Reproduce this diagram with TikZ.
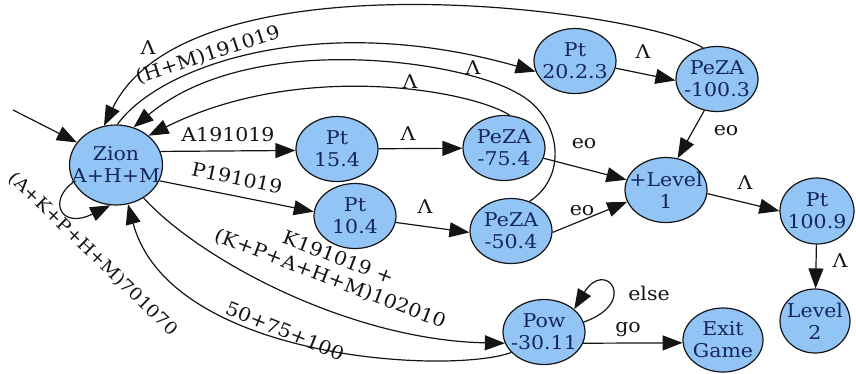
\documentclass[tikz,border=0pt]{standalone}
\usepackage{fontspec}
\setmainfont{DejaVu Serif}[FakeStretch=1.08]
\usetikzlibrary{shapes.geometric,arrows.meta}
\definecolor{nodefill}{RGB}{146,197,246}
\definecolor{nodetext}{RGB}{22,38,88}
\definecolor{edgecol}{RGB}{20,20,20}
\tikzset{
  fsm/.style={ellipse, draw=edgecol, line width=1.2pt, fill=nodefill, text=nodetext,
    inner xsep=-14pt, inner ysep=-2pt, align=center, font=\fontsize{19}{22}\selectfont,
    minimum width=82pt, minimum height=65pt},
  conn/.style={draw=edgecol, line width=1.2pt, -{Triangle[length=20pt,width=15pt]}},
  lbl/.style={font=\fontsize{19}{22}\selectfont, text=edgecol, inner sep=0pt, align=center},
}
\begin{document}
\begin{tikzpicture}[x=1pt,y=-1pt]
\useasboundingbox (0,0) rectangle (856,373);
% states
\node[fsm, minimum width=93pt, minimum height=80pt] (zion) at (116,165) {Zion\\A+H+M};
\node[fsm] (pt154) at (337,149) {Pt\\15.4};
\node[fsm] (pt2023) at (575,61) {Pt\\20.2.3};
\node[fsm] (peza100) at (717,79) {PeZA\\-100.3};
\node[fsm] (peza75) at (504,148) {PeZA\\-75.4};
\node[fsm] (lvl1) at (666,190) {+Level\\1};
\node[fsm] (peza50) at (511,231) {PeZA\\-50.4};
\node[fsm] (pt104) at (355,216) {Pt\\10.4};
\node[fsm, minimum width=74pt, minimum height=66pt] (pt1009) at (817,211) {Pt\\100.9};
\node[fsm, minimum width=70pt, minimum height=64pt] (lvl2) at (815,321) {Level\\2};
\node[fsm] (pow) at (544,332) {Pow\\-30.11};
\node[fsm, minimum width=80pt, minimum height=64pt] (exitg) at (723,340) {Exit\\Game};
% initial arrow
\coordinate (init) at (13,110);
\draw[conn] (init) -- (zion.150);
% from Zion
\draw[conn] (zion.17) -- (pt154.182);
\draw[conn] (zion.-20) -- (pt104.174);
\draw[conn] (zion.88) .. controls (160,65) and (320,10) .. (pt2023.195);
\draw[conn] (zion.202) .. controls (48,200) and (60,230) .. (zion.262);
\draw[conn] (zion.-50) .. controls (200,260) and (350,340) .. (pow.196);
% chains
\draw[conn] (pt154) -- (peza75);
\draw[conn] (pt104.-9) -- (peza50.182);
\draw[conn] (pt2023.-10) -- (peza100.182);
\draw[conn] (peza75) -- (lvl1);
\draw[conn] (peza50.-2) -- (lvl1.197);
\draw[conn] (peza100.248) -- (lvl1.70);
\draw[conn] (lvl1.-5) -- (pt1009.180);
\draw[conn] (pt1009) -- (lvl2);
\draw[conn] (pow.-16) -- (exitg.184);
\draw[conn] (pow.14) .. controls (640,302) and (605,258) .. (pow.37);
% returns to Zion
\draw[conn] (peza100.114) .. controls (640,10) and (190,-50) .. (zion.107);
\draw[conn] (peza50.58) .. controls (570,175) and (560,115) .. (517,93)
   .. controls (460,60) and (250,30) .. (zion.65);
\draw[conn] (peza75.80) .. controls (470,90) and (300,60) .. (zion.42);
\draw[conn] (pow.212) .. controls (450,375) and (170,360) .. (zion.-73);
% labels
\node[lbl] (lA) at (228,135) {A191019};
\node[lbl, rotate=-12] (lP) at (237,178) {P191019};
\node[lbl, rotate=18] (lHM) at (208,55) {(H+M)191019};
\node[lbl] (lam1) at (148,48) {Λ};
\node[lbl] (lam2) at (410,82) {Λ};
\node[lbl] (lam3) at (473,68) {Λ};
\node[lbl] (lam4) at (408,134) {Λ};
\node[lbl] (lam5) at (425,207) {Λ};
\node[lbl] (lam6) at (643,52) {Λ};
\node[lbl] (lam7) at (745,183) {Λ};
\node[lbl] (lam8) at (840,261) {Λ};
\node[lbl] (eo1) at (584,144) {eo};
\node[lbl] (eo2) at (582,211) {eo};
\node[lbl] (eo3) at (726,131) {eo};
\node[lbl] (lelse) at (649,293) {else};
\node[lbl] (lgo) at (628,330) {go};
\node[lbl, rotate=-21] (lK) at (334,269) {K191019 +\\(K+P+A+H+M)102010};
\node[lbl, rotate=-22] (l50) at (285,331) {50+75+100};
\node[lbl, rotate=-44, font=\fontsize{17.5}{21}\selectfont] (lloop) at (93,254) {(A+K+P+H+M)701070};
\end{tikzpicture}
\end{document}
